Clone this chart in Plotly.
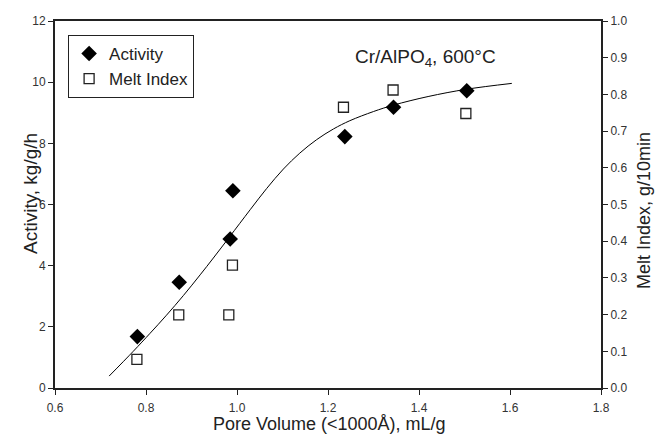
import plotly.graph_objects as go

# Data
act_x = [0.781, 0.873, 0.985, 0.991, 1.237, 1.344, 1.505]
act_y = [1.68, 3.46, 4.87, 6.45, 8.22, 9.18, 9.72]

mi_x = [0.780, 0.872, 0.982, 0.990, 1.234, 1.343, 1.503]
mi_y = [0.078, 0.199, 0.199, 0.335, 0.765, 0.812, 0.748]

fit_x = [0.719, 0.772, 0.809, 0.845, 0.882, 0.919, 0.948, 0.983, 1.029, 1.065, 1.102,
         1.138, 1.175, 1.212, 1.248, 1.300, 1.344, 1.420, 1.505, 1.604]
fit_y = [0.39, 1.20, 1.79, 2.38, 3.02, 3.70, 4.25, 4.93, 5.83, 6.52, 7.16,
         7.68, 8.12, 8.47, 8.74, 9.04, 9.25, 9.53, 9.77, 9.96]

x_ticks = [0.6, 0.8, 1.0, 1.2, 1.4, 1.6, 1.8]
y_ticks = [0, 2, 4, 6, 8, 10, 12]
y2_ticks = [0.0, 0.1, 0.2, 0.3, 0.4, 0.5, 0.6, 0.7, 0.8, 0.9, 1.0]

FONT = "Liberation Sans, Arial, sans-serif"
W, H = 656, 435
L, R, T, B = 55, 55, 21, 47
pw, ph = W - L - R, H - T - B

fig = go.Figure()
fig.add_trace(go.Scatter(x=fit_x, y=fit_y, mode="lines", line=dict(color="black", width=1, shape="spline"),
                         showlegend=False, hoverinfo="skip"))
fig.add_trace(go.Scatter(x=act_x, y=act_y, mode="markers", name="Activity", legendgroup="a",
                         marker=dict(symbol="diamond", size=12, color="black")))
fig.add_trace(go.Scatter(x=mi_x, y=mi_y, mode="markers", name="Melt Index", legendgroup="b", yaxis="y2",
                         marker=dict(symbol="square-open", size=10, color="#222", line=dict(width=1.3))))

axis_common = dict(showgrid=False, zeroline=False, showline=True, linecolor="#222", linewidth=2,
                   ticks="outside", ticklen=5, tickcolor="#222", tickwidth=1,
                   tickfont=dict(family=FONT, size=12, color="#333"))

fig.update_layout(
    width=W, height=H,
    margin=dict(l=L, r=R, t=T, b=B),
    paper_bgcolor="white", plot_bgcolor="white",
    font=dict(family=FONT, color="#222"),
    xaxis=dict(range=[0.6, 1.8], tickvals=x_ticks, ticktext=[f"{v:.1f}" for v in x_ticks],
               mirror=True, ticklabelstandoff=3, **axis_common),
    yaxis=dict(range=[0, 12], tickvals=y_ticks, ticktext=[str(v) for v in y_ticks], **axis_common),
    yaxis2=dict(range=[0, 1.0], tickvals=y2_ticks, ticktext=[f"{v:.1f}" for v in y2_ticks],
                overlaying="y", side="right", **axis_common),
    legend=dict(x=0.024, y=0.962, xanchor="left", yanchor="top", bgcolor="white",
                bordercolor="#222", borderwidth=1, font=dict(family=FONT, size=17, color="#222"),
                tracegroupgap=0, itemwidth=30),
    showlegend=True,
    annotations=[
        dict(text="Cr/AlPO<sub>4</sub>, 600°C", x=(425 - L) / pw, y=(H - B - 58) / ph,
             xref="paper", yref="paper", xanchor="center", yanchor="middle",
             showarrow=False, font=dict(family=FONT, size=19, color="#222")),
        dict(text="Pore Volume (<1000Å), mL/g", x=(329 - L) / pw, y=(H - B - 424) / ph,
             xref="paper", yref="paper", xanchor="center", yanchor="middle",
             showarrow=False, font=dict(family=FONT, size=18, color="#222")),
        dict(text="Activity, kg/g/h", x=(30 - L) / pw, y=(H - B - 194) / ph,
             xref="paper", yref="paper", xanchor="center", yanchor="middle",
             showarrow=False, textangle=-90, font=dict(family=FONT, size=19, color="#222")),
        dict(text="Melt Index, g/10min", x=(644 - L) / pw, y=(H - B - 211) / ph,
             xref="paper", yref="paper", xanchor="center", yanchor="middle",
             showarrow=False, textangle=-90, font=dict(family=FONT, size=18, color="#222")),
    ],
)

fig.write_html("out.html")
